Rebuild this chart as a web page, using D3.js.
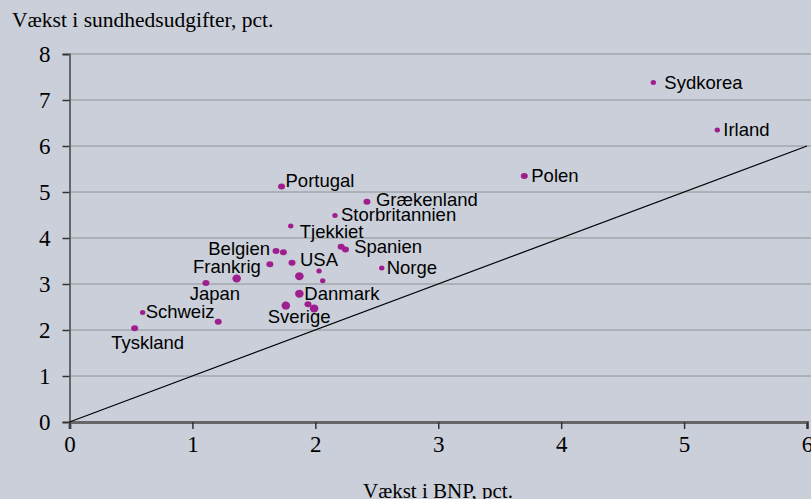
<!DOCTYPE html>
<html>
<head>
<meta charset="utf-8">
<script src="https://cdn.jsdelivr.net/npm/d3@7"></script>
<style>
  html, body { margin: 0; padding: 0; background: #cacfd9; }
  svg { display: block; }
</style>
</head>
<body>
<svg id="chart" width="811" height="499"></svg>
<script>
// ---- Data ----
const countries = ["Sydkorea","Irland","Polen","Portugal","Grækenland","Storbritannien","Tjekkiet",
  "Belgien","","Spanien","","Frankrig","USA","Norge","","","","","Japan","Danmark",
  "","","Sverige","Schweiz","","Tyskland"];
const gdpGrowth = [4.75,5.27,3.70,1.725,2.42,2.16,1.80,
  1.68,1.74,2.21,2.245,1.63,1.81,2.54,1.36,1.87,2.03,2.06,1.11,1.87,
  1.76,1.94,1.99,0.595,1.21,0.53];
const healthGrowth = [7.38,6.35,5.35,5.12,4.79,4.49,4.26,
  3.72,3.69,3.81,3.75,3.43,3.46,3.35,3.12,3.17,3.28,3.07,3.02,2.79,
  2.53,2.56,2.47,2.38,2.18,2.04];
const xTicks = [0,1,2,3,4,5,6];
const yTicks = [0,1,2,3,4,5,6,7,8];
const yTitle = "Vækst i sundhedsudgifter, pct.";
const xTitle = "Vækst i BNP, pct.";

// ---- Style / layout config ----
const dotSizeClass = [0,0,1,1,1,0,0, 1,1,1,1,1,1,0,2,2,0,0,1,2, 2,1,2,0,1,1];
const dotR = [[2.7,2.5],[3.5,3.0],[4.3,4.0]];
const labelPlace = {
  "Sydkorea":[11,0,"start"], "Irland":[6,0,"start"], "Polen":[7,0,"start"],
  "Portugal":[4,-6,"start"], "Grækenland":[9,-2,"start"], "Storbritannien":[6,-1,"start"],
  "Tjekkiet":[9,5,"start"], "Belgien":[-6,-2,"end"], "Spanien":[13,0,"start"],
  "Frankrig":[-9,2,"end"], "USA":[8,-3,"start"], "Norge":[5,0,"start"],
  "Japan":[9,10,"middle"], "Danmark":[5,0,"start"], "Schweiz":[3,-1,"start"],
  "Sverige":[-15,8,"middle"], "Tyskland":[13,14,"middle"]
};

const svg = d3.select("#chart");
const x = d3.scaleLinear().domain([0,6]).range([69.5,807]);
const y = d3.scaleLinear().domain([0,8]).range([422,54]);

// gridlines
svg.append("g").selectAll("line").data(yTicks.filter(d => d > 0)).join("line")
  .attr("x1", x(0)).attr("x2", 811)
  .attr("y1", d => y(d)).attr("y2", d => y(d))
  .attr("stroke", "#555").attr("stroke-width", 1).attr("stroke-dasharray", "1,1");

// y axis
const yAxis = svg.append("g").attr("transform", `translate(${x(0)},0)`)
  .call(d3.axisLeft(y).tickValues(yTicks).tickSize(7).tickPadding(12).tickFormat(d3.format("d")));
yAxis.select(".domain").attr("stroke", "#666").attr("stroke-width", 2);
yAxis.selectAll(".tick line").attr("stroke", "#333").attr("stroke-width", 1.5);
yAxis.selectAll("text").attr("font-family", "'Liberation Serif', 'Times New Roman', serif")
  .attr("font-size", 23).attr("fill", "#000");

// x axis
const xAxis = svg.append("g").attr("transform", `translate(0,${y(0)})`)
  .call(d3.axisBottom(x).tickValues(xTicks).tickSize(7).tickPadding(7).tickFormat(d3.format("d")));
xAxis.select(".domain").attr("stroke", "#666").attr("stroke-width", 3);
xAxis.selectAll(".tick line").attr("stroke", "#333").attr("stroke-width", 1.5);
xAxis.selectAll("text").attr("font-family", "'Liberation Serif', 'Times New Roman', serif")
  .attr("font-size", 23).attr("fill", "#000");

// diagonal
svg.append("line")
  .attr("x1", x(0)).attr("y1", y(0)).attr("x2", x(6)).attr("y2", y(6))
  .attr("stroke", "#000").attr("stroke-width", 1.2);

// points
const pts = countries.map((c, i) => ({ name: c, gx: gdpGrowth[i], hy: healthGrowth[i], s: dotSizeClass[i] }));
svg.append("g").selectAll("ellipse").data(pts).join("ellipse")
  .attr("cx", d => x(d.gx)).attr("cy", d => y(d.hy))
  .attr("rx", d => dotR[d.s][0]).attr("ry", d => dotR[d.s][1])
  .attr("fill", "#a01f8e");

// labels
svg.append("g").selectAll("text").data(pts.filter(d => d.name)).join("text")
  .attr("x", d => x(d.gx) + labelPlace[d.name][0])
  .attr("y", d => y(d.hy) + labelPlace[d.name][1])
  .attr("text-anchor", d => labelPlace[d.name][2])
  .attr("dominant-baseline", "central")
  .attr("font-family", "'Liberation Sans', Arial, sans-serif")
  .attr("font-size", 18.5).attr("fill", "#000")
  .text(d => d.name);

// titles
svg.append("text").attr("x", 12).attr("y", 27)
  .attr("font-family", "'Liberation Serif', 'Times New Roman', serif")
  .attr("font-size", 21.5).attr("fill", "#000").text(yTitle);
svg.append("text").attr("x", 438).attr("y", 498).attr("text-anchor", "middle")
  .attr("font-family", "'Liberation Serif', 'Times New Roman', serif")
  .attr("font-size", 21).attr("fill", "#000").text(xTitle);
</script>
</body>
</html>
